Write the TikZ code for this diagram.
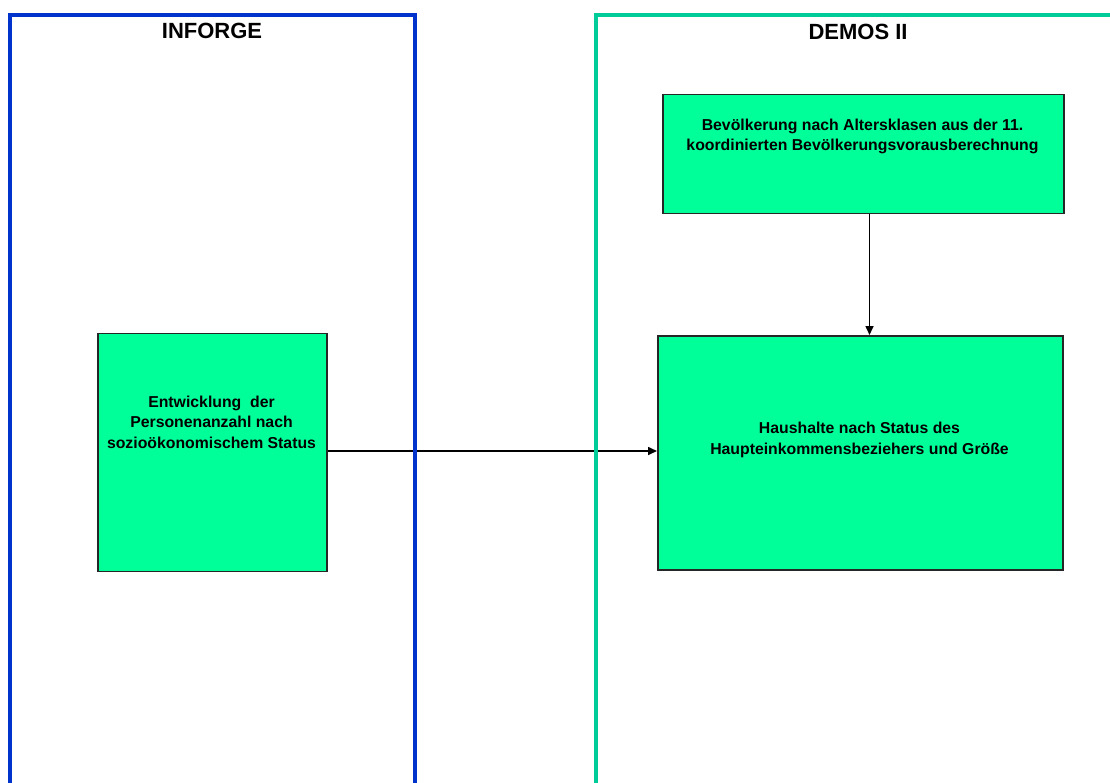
\documentclass[tikz,border=0pt]{standalone}
\usepackage{fontspec}
\setmainfont{Liberation Sans}
\usetikzlibrary{arrows.meta}
\definecolor{frameblue}{HTML}{0033CC}
\definecolor{framegreen}{HTML}{00CC99}
\definecolor{boxfill}{HTML}{00FF99}
\tikzset{
  modelbox/.style={draw=black!85, line width=1.5pt, fill=boxfill, inner sep=0pt},
  boxtext/.style={align=center, font=\bfseries\fontsize{15.8}{20.5}\selectfont, inner sep=0pt},
  titletext/.style={font=\bfseries\fontsize{22}{26}\selectfont, inner sep=0pt, anchor=base},
  flow/.style={line width=1.6pt, -{Triangle[length=9pt,width=8pt]}},
}
\begin{document}
\begin{tikzpicture}[x=1pt,y=-1pt]
\useasboundingbox (0,0) rectangle (1110,783);
% boxes
\node[modelbox, minimum width=229pt, minimum height=238pt, anchor=north west] (ent) at (97,332.5) {};
\node[modelbox, minimum width=401pt, minimum height=119pt, anchor=north west] (bev) at (662,94) {};
\node[modelbox, minimum width=405pt, minimum height=234pt, anchor=north west] (hh) at (657,335) {};
% texts
\node[boxtext, anchor=base] (entt) at (211.5,448) {Entwicklung\ \ der\\Personenanzahl nach\\sozioökonomischem Status};
\node[boxtext, anchor=base] (bevt) at (862.5,151) {Bevölkerung nach Altersklasen aus der 11.\\koordinierten Bevölkerungsvorausberechnung};
\node[boxtext, anchor=base] (hht) at (859.5,454) {Haushalte nach Status des\\Haupteinkommensbeziehers und Größe};
% connectors
\draw[flow] (ent.east |- 0,451) coordinate (a1) -- (a1 -| hh.west);
\draw[flow] (bev.south -| 869.5,0) coordinate (a2) -- (a2 |- hh.north);
% frames
\coordinate (bl) at (10,800);
\coordinate (gl) at (595.5,800);
\draw[frameblue, line width=4pt] (bl) -- (10,15) -- (415,15) -- (415,800);
\draw[framegreen, line width=4pt] (gl) -- (595.5,15) -- (1120,15);
\node[titletext] (inforge) at (212,39) {INFORGE};
\node[titletext] (demos) at (858,40) {DEMOS II};
\end{tikzpicture}
\end{document}
